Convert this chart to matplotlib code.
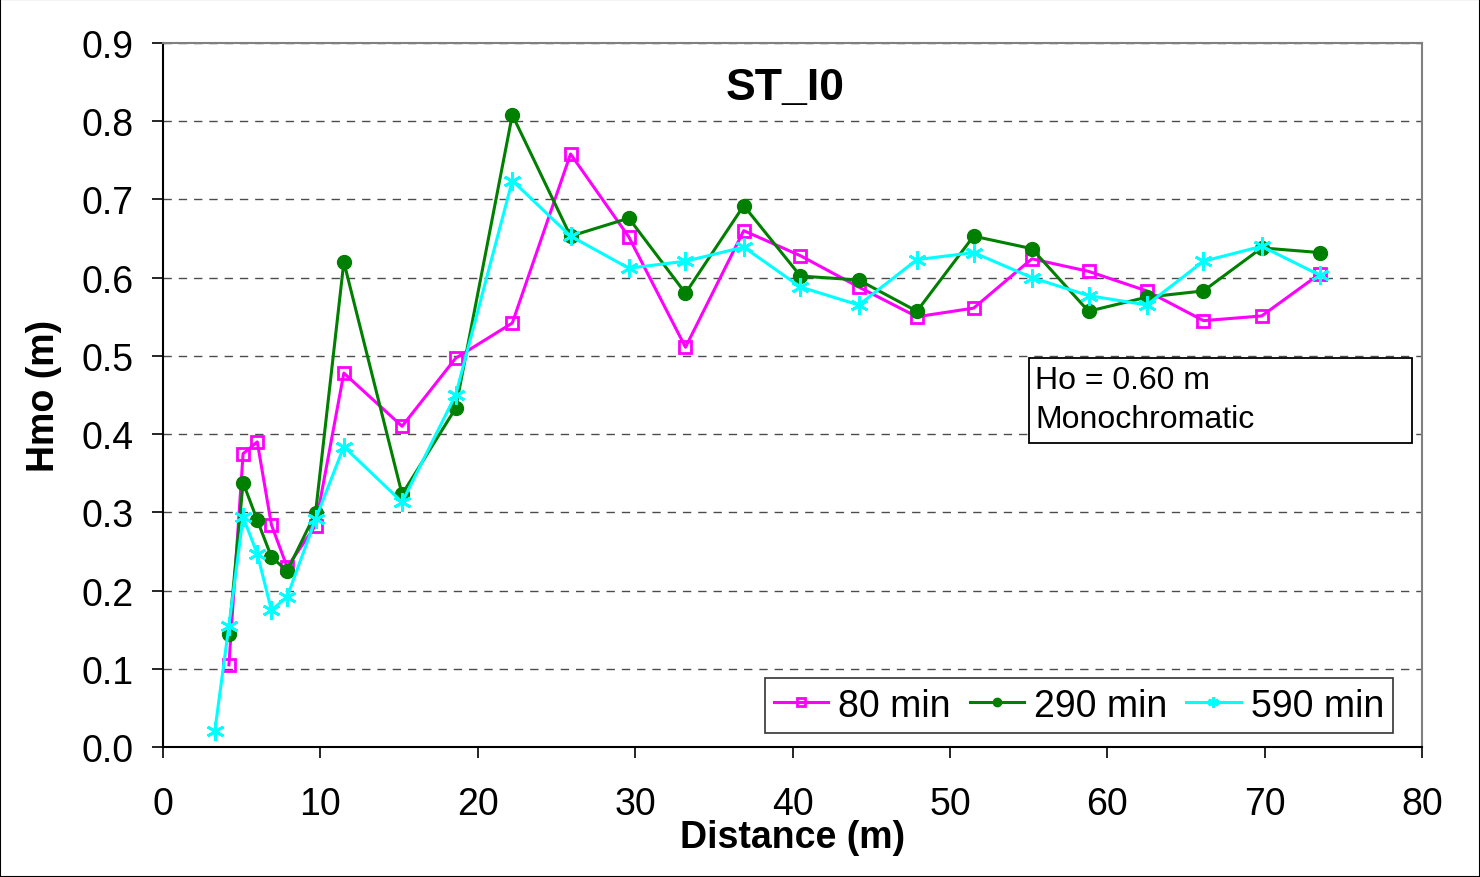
import matplotlib.pyplot as plt

plt.rcParams['font.family'] = ['Liberation Sans', 'DejaVu Sans']

# distances (m)
x_80 = [4.2, 5.1, 6.0, 6.9, 7.9, 9.7, 11.5, 15.2, 18.6, 22.2, 25.9, 29.6, 33.2,
        36.9, 40.5, 44.2, 47.9, 51.5, 55.2, 58.8, 62.5, 66.1, 69.8, 73.5]
x_590 = [3.3] + x_80

hmo_80 = [0.105, 0.375, 0.39, 0.284, 0.23, 0.283, 0.478, 0.41, 0.497, 0.542,
          0.758, 0.652, 0.511, 0.66, 0.628, 0.588, 0.55, 0.561, 0.624, 0.608,
          0.583, 0.545, 0.551, 0.605]
hmo_290 = [0.144, 0.338, 0.29, 0.243, 0.225, 0.299, 0.62, 0.323, 0.433, 0.808,
           0.653, 0.676, 0.58, 0.692, 0.602, 0.597, 0.557, 0.653, 0.637, 0.557,
           0.575, 0.583, 0.638, 0.632]
hmo_590 = [0.02, 0.155, 0.294, 0.247, 0.175, 0.192, 0.291, 0.384, 0.313, 0.45,
           0.724, 0.653, 0.612, 0.621, 0.639, 0.588, 0.565, 0.623, 0.632, 0.6,
           0.577, 0.565, 0.621, 0.64, 0.603]

fig = plt.figure(figsize=(14.8, 8.78), dpi=100)
ax = fig.add_axes([0.110, 0.148, 0.851, 0.802])

ax.plot(x_80, hmo_80, color='#FF00FF', lw=2.2, marker='s', ms=9,
        mfc='none', mec='#FF00FF', mew=2, label='80 min', zorder=3)
ax.plot(x_80, hmo_290, color='#008000', lw=2.2, marker='o', ms=10,
        label='290 min', zorder=3)
ax.plot(x_590, hmo_590, color='#00FFFF', lw=2.2, marker=(6, 2, 0), ms=13,
        mew=2, label='590 min', zorder=3)

ax.set_xlim(0, 80)
ax.set_ylim(0, 0.9)
ax.set_xticks(range(0, 81, 10))
ax.set_yticks([i / 10 for i in range(10)])
ax.set_yticklabels(['%.1f' % (i / 10) for i in range(10)])
ax.yaxis.grid(True, linestyle=(0, (6, 5)), color='black', lw=1, alpha=0.7)
ax.set_axisbelow(True)

ax.tick_params(labelsize=27, length=8, width=1.2, direction='out')
ax.tick_params(axis='x', pad=20)
ax.tick_params(axis='y', pad=13)

for s in ['top', 'right']:
    ax.spines[s].set_color('#808080')
    ax.spines[s].set_linewidth(1.5)
for s in ['left', 'bottom']:
    ax.spines[s].set_linewidth(1.5)

ax.set_xlabel('Distance (m)', fontsize=27, fontweight='bold')
ax.xaxis.set_label_coords(0.5, -0.102)
ax.set_ylabel('Hmo (m)', fontsize=27, fontweight='bold', labelpad=14)

ax.text(0.494, 0.937, 'ST_I0', transform=ax.transAxes, fontsize=32,
        fontweight='bold', ha='center', va='center')

# annotation box
ax.add_patch(plt.Rectangle((0.688, 0.432), 0.304, 0.1206,
                           transform=ax.transAxes, fc='white', ec='black',
                           lw=1.3, zorder=4))
ax.text(0.6925, 0.4935, 'Ho = 0.60 m\nMonochromatic', transform=ax.transAxes,
        fontsize=23, ha='left', va='center', linespacing=1.36, zorder=5)

leg = ax.legend(loc='lower right', bbox_to_anchor=(0.977, 0.02), ncol=3,
                fontsize=27, frameon=True, fancybox=False, edgecolor='black',
                handlelength=1.45, handletextpad=0.27, columnspacing=0.5,
                borderpad=0.25, borderaxespad=0, markerscale=0.6)
leg.get_frame().set_linewidth(1.2)

fig.patches.append(plt.Rectangle((0, 0), 1, 1, transform=fig.transFigure,
                                 fill=False, ec='black', lw=1.5))

fig.savefig('out.png', dpi=100)
